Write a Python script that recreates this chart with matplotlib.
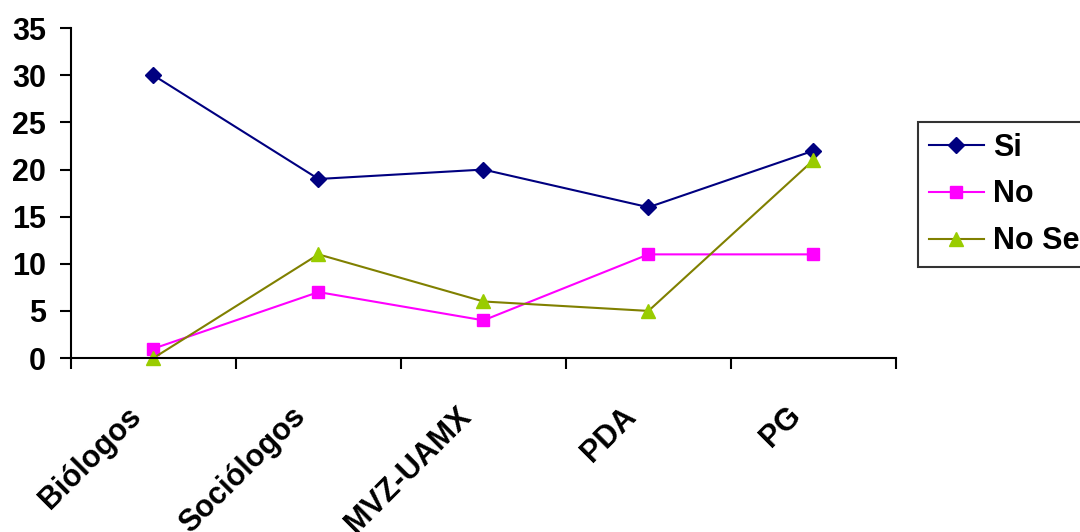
import matplotlib.pyplot as plt
import numpy as np

plt.rcParams['font.family'] = ['Liberation Sans', 'DejaVu Sans']
plt.rcParams['font.weight'] = 'bold'

grupos = ['Biólogos', 'Sociólogos', 'MVZ-UAMX', 'PDA', 'PG']
si = [30, 19, 20, 16, 22]
no = [1, 7, 4, 11, 11]
no_se = [0, 11, 6, 5, 21]

fig = plt.figure(figsize=(10.8, 5.32), dpi=100)
ax = fig.add_axes([0.0657, 0.327, 0.7639, 0.62])

x = np.arange(len(grupos))
ax.plot(x, si, color='#000080', lw=1.5, marker='D', ms=8,
        mfc='#000080', mec='#000080', label='Si', clip_on=False)
ax.plot(x, no, color='#FF00FF', lw=1.5, marker='s', ms=9,
        mfc='#FF00FF', mec='#FF00FF', label='No', clip_on=False)
ax.plot(x, no_se, color='#808000', lw=1.5, marker='^', ms=10,
        mfc='#99CC00', mec='#99CC00', label='No Se', clip_on=False)

ax.set_xlim(-0.5, len(grupos) - 0.5)
ax.set_ylim(0, 35)
ax.set_yticks(range(0, 36, 5))
ax.tick_params(axis='y', labelsize=22, length=8, width=1.5, direction='out', pad=10)

# category ticks sit between groups, names go under each point
ax.set_xticks(np.arange(-0.5, len(grupos), 1.0))
ax.set_xticklabels([])
ax.tick_params(axis='x', length=8, width=1.5, direction='out')
for i, g in enumerate(grupos):
    ax.annotate(g, xy=(i, 0), xycoords=('data', 'axes fraction'),
                xytext=(-20, -31), textcoords='offset points',
                rotation=45, rotation_mode='anchor', ha='right', va='top',
                fontsize=22, fontweight='bold')

for s in ['top', 'right']:
    ax.spines[s].set_visible(False)
for s in ['left', 'bottom']:
    ax.spines[s].set_linewidth(1.5)

leg = fig.legend(loc='upper left', bbox_to_anchor=(918 / 1080, 1 - 122 / 532),
                 borderaxespad=0, fontsize=22, frameon=True, fancybox=False,
                 edgecolor='black', handlelength=1.8, labelspacing=0.55,
                 borderpad=0.35, handletextpad=0.3)
leg.get_frame().set_linewidth(1.5)

fig.savefig('out.png', dpi=100)
